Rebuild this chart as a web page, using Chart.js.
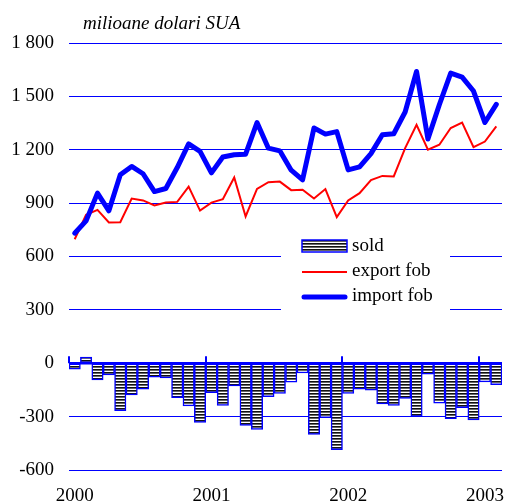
<!DOCTYPE html>
<html>
<head>
<meta charset="utf-8">
<script src="https://cdn.jsdelivr.net/npm/chart.js@4.4.1/dist/chart.umd.min.js"></script>
<style>
  html, body { margin: 0; padding: 0; background: #fff; }
  #wrap { width: 505px; height: 502px; }
</style>
</head>
<body>
<div id="wrap"><canvas id="chart" width="505" height="502"></canvas></div>
<script>
// monthly trade, Jan 2000 - Feb 2003 (milioane dolari SUA)
const months = [
  '2000-01','2000-02','2000-03','2000-04','2000-05','2000-06','2000-07','2000-08','2000-09','2000-10','2000-11','2000-12',
  '2001-01','2001-02','2001-03','2001-04','2001-05','2001-06','2001-07','2001-08','2001-09','2001-10','2001-11','2001-12',
  '2002-01','2002-02','2002-03','2002-04','2002-05','2002-06','2002-07','2002-08','2002-09','2002-10','2002-11','2002-12',
  '2003-01','2003-02'
];
const exportFob = [697, 834, 862, 791, 793, 926, 915, 887, 903, 907, 993, 858,
                   903, 922, 1044, 825, 980, 1018, 1021, 973, 975, 926, 979, 821,
                   915, 956, 1030, 1053, 1050, 1209, 1340, 1200, 1228, 1322, 1353, 1215,
                   1246, 1331];
const importFob = [731, 800, 956, 857, 1059, 1106, 1065, 965, 982, 1100, 1233, 1191,
                   1070, 1159, 1172, 1175, 1353, 1209, 1194, 1085, 1031, 1322, 1288, 1302,
                   1087, 1104, 1178, 1284, 1290, 1412, 1640, 1260, 1453, 1631, 1608, 1530,
                   1353, 1455];
const sold = [-33, 35, -93, -65, -267, -178, -146, -78, -82, -193, -240, -333,
              -165, -237, -127, -350, -372, -188, -169, -106, -55, -400, -306, -486,
              -169, -146, -152, -229, -237, -197, -299, -61, -225, -311, -250, -318,
              -105, -120];
const yMin = -600, yMax = 1800, yStep = 300;
const unitLabel = 'milioane dolari SUA';
const seriesNames = ['sold', 'export fob', 'import fob'];

const SERIF = "'Liberation Serif', 'Times New Roman', serif";
const BLUE = '#0000ff';
const RED = '#ff0000';

// horizontal hatching used for the balance bars
function stripes() {
  const c = document.createElement('canvas');
  c.width = 4; c.height = 3;
  const g = c.getContext('2d');
  g.fillStyle = '#fff'; g.fillRect(0, 0, 4, 3);
  g.fillStyle = '#111'; g.fillRect(0, 0, 4, 1);
  g.fillStyle = '#666'; g.fillRect(0, 1, 4, 1);
  return g.createPattern(c, 'repeat');
}
const hatch = stripes();

function fmt(v) {
  const s = String(Math.abs(v));
  const t = s.length > 3 ? s.slice(0, -3) + ' ' + s.slice(-3) : s;
  return (v < 0 ? '-' : '') + t;
}

const decor = {
  id: 'decor',
  beforeDatasetsDraw(chart) {
    // legend panel sits on top of the grid
    const ctx = chart.ctx;
    ctx.save();
    ctx.fillStyle = '#fff';
    ctx.fillRect(281, 228, 169, 92);
    ctx.restore();
  },
  afterDatasetsDraw(chart) {
    const ctx = chart.ctx;
    const xs = chart.scales.x, ys = chart.scales.y;
    const area = chart.chartArea;
    const y0 = ys.getPixelForValue(0);
    const half = (xs.getPixelForValue(1) - xs.getPixelForValue(0)) / 2;
    ctx.save();

    // zero line
    ctx.strokeStyle = BLUE;
    ctx.lineWidth = 2.5;
    ctx.beginPath();
    ctx.moveTo(area.left, y0);
    ctx.lineTo(area.right, y0);
    ctx.stroke();

    // year marks on the zero line
    ctx.lineWidth = 2;
    months.forEach((m, i) => {
      if (!m.endsWith('-01')) return;
      const x = Math.round(xs.getPixelForValue(i) - half);
      ctx.beginPath();
      ctx.moveTo(x, y0 - 7);
      ctx.lineTo(x, y0);
      ctx.stroke();
    });

    // unit caption
    ctx.fillStyle = '#000';
    ctx.font = 'italic 19px ' + SERIF;
    ctx.textBaseline = 'alphabetic';
    ctx.textAlign = 'left';
    ctx.fillText(unitLabel, 83, 29);

    // legend
    const lx = 302, lw = 45, tx = 352;
    ctx.font = '19px ' + SERIF;
    ctx.textBaseline = 'middle';
    ctx.fillStyle = hatch;
    ctx.fillRect(lx, 240, lw, 12);
    ctx.strokeStyle = BLUE;
    ctx.lineWidth = 1.5;
    ctx.strokeRect(lx, 240, lw, 12);
    ctx.fillStyle = '#000';
    ctx.fillText(seriesNames[0], tx, 246);

    ctx.strokeStyle = RED;
    ctx.lineWidth = 2;
    ctx.beginPath(); ctx.moveTo(lx, 272); ctx.lineTo(lx + lw, 272); ctx.stroke();
    ctx.fillText(seriesNames[1], tx, 271);

    ctx.strokeStyle = BLUE;
    ctx.lineWidth = 5;
    ctx.lineCap = 'round';
    ctx.beginPath(); ctx.moveTo(lx + 2, 297); ctx.lineTo(lx + lw - 2, 297); ctx.stroke();
    ctx.fillText(seriesNames[2], tx, 296);

    ctx.restore();
  }
};

new Chart(document.getElementById('chart'), {
  type: 'bar',
  data: {
    labels: months,
    datasets: [
      {
        type: 'line', label: seriesNames[2], data: importFob,
        borderColor: BLUE, borderWidth: 5, pointRadius: 0, tension: 0,
        borderJoinStyle: 'round', borderCapStyle: 'round', order: 1
      },
      {
        type: 'line', label: seriesNames[1], data: exportFob,
        borderColor: RED, borderWidth: 2, pointRadius: 0, tension: 0, order: 2
      },
      {
        type: 'bar', label: seriesNames[0], data: sold,
        backgroundColor: hatch, borderColor: BLUE, borderWidth: 1.5,
        borderSkipped: false, categoryPercentage: 1, barPercentage: 1, order: 3
      }
    ]
  },
  options: {
    responsive: false,
    animation: false,
    layout: { padding: { top: 43, right: 3, left: 0, bottom: 0 } },
    plugins: { legend: { display: false }, tooltip: { enabled: false }, title: { display: false } },
    scales: {
      x: {
        offset: true,
        grid: { display: false },
        border: { display: false },
        afterFit(scale) { scale.height = 32; },
        ticks: {
          autoSkip: false, maxRotation: 0, padding: 7,
          color: '#000', font: { family: SERIF, size: 19 },
          callback(v, i) { return months[i].endsWith('-01') ? months[i].slice(0, 4) : ''; }
        }
      },
      y: {
        min: yMin, max: yMax,
        grid: {
          color: ctx => ctx.tick.value === 0 ? 'rgba(0,0,0,0)' : BLUE,
          lineWidth: 1, drawTicks: false
        },
        border: { display: false },
        afterFit(scale) { scale.width = 69; },
        ticks: {
          stepSize: yStep, padding: 15, color: '#000',
          font: { family: SERIF, size: 19 },
          callback: v => fmt(v)
        }
      }
    }
  },
  plugins: [decor]
});
</script>
</body>
</html>
